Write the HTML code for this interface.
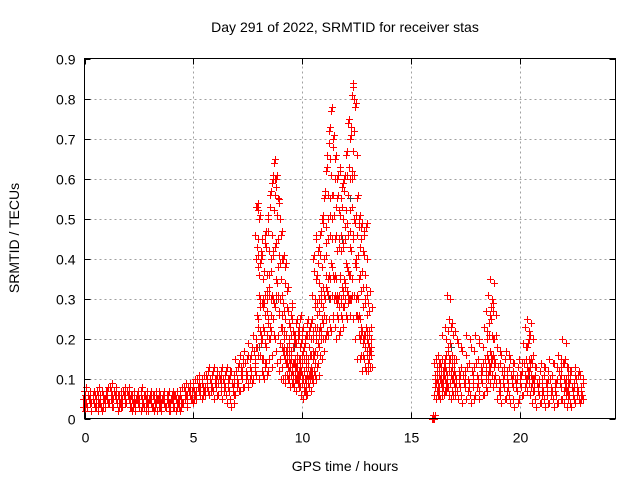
<!DOCTYPE html>
<html><head><meta charset="utf-8"><style>
body{margin:0;background:#fff}
svg{display:block;font-family:"Liberation Sans",sans-serif}
</style></head><body>
<svg id="chart" width="640" height="480" viewBox="0 0 640 480">
<rect width="640" height="480" fill="#fff"/>
<g id="grid"></g>
<g id="marks" shape-rendering="crispEdges"></g>
<rect x="84.5" y="58.5" width="531" height="360" fill="none" stroke="#000" stroke-width="1"/>
<g id="axes"></g>
<text x="345" y="32" font-size="14" text-anchor="middle">Day 291 of 2022, SRMTID for receiver stas</text>
<text x="345" y="471" font-size="14" text-anchor="middle">GPS time / hours</text>
<text transform="translate(19,238) rotate(-90)" font-size="14" text-anchor="middle">SRMTID / TECUs</text>
</svg>
<script>
const xTicks=[0,5,10,15,20];
const yTicks=[0,0.1,0.2,0.3,0.4,0.5,0.6,0.7,0.8,0.9];
const yTickLabels=["0","0.1","0.2","0.3","0.4","0.5","0.6","0.7","0.8","0.9"];
const redT=[0,0.2,0.4,0.6,0.8,1.0,1.2,1.4,1.6,1.8,2.0,2.2,2.4,2.6,2.8,3.0,3.2,3.4,3.6,3.8,4.0,4.2,4.4,4.6,4.8,5.0,5.2,5.4,5.6,5.8,6.0,6.2,6.4,6.6,6.8,7.0,7.2,7.4,7.6,7.8,7.9,8.0,8.1,8.2,8.3,8.4,8.5,8.6,8.7,8.8,8.9,9.0,9.1,9.2,9.3,9.4,9.5,9.6,9.7,9.8,9.9,10.0,10.1,10.2,10.3,10.4,10.5,10.6,10.7,10.8,10.9,11.0,11.1,11.2,11.3,11.4,11.5,11.6,11.7,11.8,11.9,12.0,12.1,12.2,12.3,12.4,12.5,12.6,12.7,12.8,12.9,13.0,13.1,16.0,16.1,16.2,16.3,16.4,16.5,16.6,16.7,16.8,16.9,17.0,17.2,17.4,17.6,17.8,18.0,18.2,18.4,18.5,18.6,18.7,18.8,19.0,19.2,19.4,19.6,19.8,20.0,20.2,20.3,20.4,20.5,20.6,20.8,21.0,21.2,21.4,21.6,21.8,22.0,22.1,22.2,22.4,22.6,22.8];
const redV=[
[0.03,0.05,0.07,0.04,0.02],[0.03,0.04,0.06,0.02,0.05],[0.02,0.04,0.05,0.03,0.06],[0.03,0.05,0.07,0.04,0.02],[0.04,0.06,0.03,0.05,0.02],[0.03,0.05,0.07,0.04,0.06],[0.04,0.06,0.08,0.03,0.05],[0.03,0.05,0.07,0.04,0.06],[0.02,0.04,0.06,0.05,0.03],[0.03,0.05,0.07,0.04,0.06],
[0.04,0.05,0.07,0.03,0.06],[0.03,0.04,0.06,0.05,0.02],[0.02,0.04,0.05,0.03,0.06],[0.03,0.05,0.07,0.04,0.02],[0.03,0.04,0.06,0.05,0.02],[0.02,0.04,0.05,0.03,0.06],[0.03,0.04,0.06,0.05,0.02],[0.02,0.03,0.05,0.04,0.06],[0.02,0.04,0.05,0.03,0.06],[0.03,0.04,0.06,0.02,0.05],
[0.02,0.04,0.05,0.03,0.06],[0.03,0.04,0.06,0.05,0.02],[0.03,0.05,0.07,0.04,0.02],[0.04,0.06,0.08,0.03,0.05],[0.04,0.06,0.08,0.05,0.07],[0.05,0.07,0.09,0.06,0.04],[0.05,0.07,0.1,0.06,0.08],[0.06,0.08,0.1,0.07,0.05],[0.06,0.09,0.11,0.07,0.08],[0.06,0.08,0.1,0.12,0.07],
[0.05,0.08,0.1,0.12,0.09],[0.06,0.09,0.11,0.08,0.1],[0.05,0.08,0.1,0.12,0.07],[0.04,0.07,0.1,0.12,0.09],[0.03,0.06,0.09,0.11,0.08],[0.06,0.09,0.12,0.14,0.08],[0.07,0.1,0.13,0.15,0.11],[0.08,0.11,0.14,0.16,0.1],[0.08,0.12,0.15,0.18,0.1],[0.1,0.13,0.17,0.2,0.12],
[0.15,0.25,0.4,0.45,0.53,0.52],[0.18,0.3,0.38,0.42,0.5,0.22],[0.1,0.2,0.28,0.35,0.4,0.15],[0.12,0.22,0.3,0.44,0.28,0.14],[0.1,0.18,0.26,0.36,0.46,0.3],[0.14,0.24,0.32,0.42,0.5,0.2],[0.12,0.22,0.36,0.46,0.56,0.3],[0.2,0.3,0.4,0.52,0.59,0.25],[0.16,0.28,0.42,0.58,0.64,0.6],[0.2,0.34,0.44,0.55,0.6,0.3],
[0.14,0.26,0.38,0.5,0.54,0.3],[0.12,0.22,0.3,0.4,0.46,0.18],[0.1,0.16,0.26,0.34,0.4,0.22],[0.1,0.14,0.2,0.28,0.38,0.17],[0.09,0.13,0.18,0.24,0.32,0.15],[0.1,0.14,0.2,0.26,0.12,0.16],[0.08,0.12,0.17,0.22,0.28,0.14],[0.09,0.13,0.18,0.24,0.2,0.1],[0.08,0.12,0.15,0.2,0.24,0.1],[0.07,0.1,0.14,0.18,0.22,0.12],
[0.08,0.12,0.15,0.2,0.25,0.1],[0.06,0.1,0.14,0.18,0.22,0.08],[0.05,0.09,0.12,0.16,0.2,0.07],[0.07,0.1,0.14,0.18,0.24,0.09],[0.06,0.1,0.15,0.2,0.22,0.12],[0.08,0.12,0.16,0.2,0.24,0.1],[0.1,0.16,0.22,0.3,0.4,0.14],[0.12,0.2,0.28,0.36,0.45,0.16],[0.1,0.18,0.26,0.34,0.42,0.22],[0.14,0.22,0.3,0.38,0.46,0.2],
[0.16,0.24,0.32,0.4,0.5,0.28],[0.2,0.3,0.4,0.48,0.55,0.25],[0.2,0.32,0.44,0.56,0.62,0.35],[0.22,0.35,0.5,0.65,0.72,0.3],[0.25,0.38,0.55,0.68,0.77,0.45],[0.22,0.35,0.5,0.6,0.7,0.3],[0.25,0.35,0.45,0.55,0.65,0.3],[0.2,0.3,0.42,0.52,0.6,0.28],[0.25,0.35,0.45,0.55,0.62,0.3],[0.22,0.32,0.42,0.5,0.58,0.28],
[0.25,0.34,0.44,0.52,0.6,0.3],[0.28,0.38,0.48,0.56,0.66,0.32],[0.25,0.36,0.46,0.6,0.74,0.3],[0.3,0.42,0.52,0.62,0.7,0.35],[0.3,0.45,0.6,0.72,0.83,0.8],[0.25,0.38,0.5,0.66,0.78,0.3],[0.2,0.3,0.4,0.48,0.55,0.25],[0.15,0.25,0.35,0.45,0.5,0.2],[0.15,0.22,0.32,0.42,0.48,0.2],[0.12,0.2,0.28,0.36,0.46,0.18],
[0.15,0.22,0.3,0.4,0.48,0.2],[0.12,0.18,0.26,0.32,0.14,0.16],[0.12,0.16,0.22,0.28,0.17,0.2],
[0.0,0.0,0.0],
[0.06,0.09,0.11,0.13,0.08],[0.05,0.08,0.1,0.14,0.07],[0.06,0.09,0.12,0.15,0.1],[0.05,0.08,0.11,0.13,0.09],[0.06,0.1,0.14,0.2,0.12],[0.07,0.11,0.16,0.22,0.09],[0.08,0.12,0.18,0.3,0.14],[0.06,0.1,0.15,0.24,0.12],[0.05,0.09,0.14,0.22,0.11],[0.06,0.1,0.14,0.2,0.08],
[0.05,0.08,0.12,0.18,0.1],[0.04,0.08,0.11,0.16,0.09],[0.05,0.09,0.13,0.2,0.07],[0.04,0.08,0.12,0.17,0.1],[0.06,0.1,0.14,0.2,0.08],[0.05,0.09,0.13,0.18,0.11],[0.06,0.1,0.15,0.22,0.12],[0.08,0.14,0.2,0.26,0.11],[0.1,0.16,0.24,0.3,0.13],[0.12,0.2,0.28,0.34,0.15],
[0.08,0.14,0.2,0.26,0.1],[0.05,0.09,0.13,0.17,0.07],[0.04,0.08,0.12,0.15,0.1],[0.05,0.09,0.12,0.16,0.07],[0.04,0.08,0.11,0.14,0.1],[0.03,0.07,0.1,0.13,0.09],[0.05,0.08,0.11,0.14,0.1],[0.06,0.1,0.14,0.18,0.08],[0.08,0.12,0.18,0.22,0.1],[0.1,0.14,0.2,0.24,0.12],
[0.06,0.1,0.15,0.2,0.08],[0.04,0.07,0.1,0.13,0.09],[0.03,0.06,0.09,0.12,0.08],[0.04,0.07,0.1,0.13,0.06],[0.03,0.06,0.09,0.12,0.08],[0.04,0.07,0.1,0.14,0.06],[0.03,0.06,0.09,0.13,0.08],[0.04,0.08,0.12,0.15,0.1],[0.05,0.09,0.14,0.19,0.07],[0.04,0.07,0.1,0.13,0.06],
[0.03,0.06,0.09,0.12,0.08],[0.03,0.05,0.08,0.11,0.07],[0.04,0.07,0.1,0.12,0.06],[0.04,0.06,0.08,0.1,0.05]];
const grayT=[8.0,8.8,9.6,10.4,11.2,11.8,12.2,12.6,16.8,18.6,20.4];
const grayV=[0.18,0.3,0.18,0.16,0.3,0.45,0.55,0.35,0.18,0.12,0.1];

const X0=84.5,X1=615.5,Y0=418.5,Y1=58.5,XMAX=24.36,YMAX=0.9;
const xs=v=>X0+(v/XMAX)*(X1-X0);
const ys=v=>Y0-(v/YMAX)*(Y0-Y1);
const NS="http://www.w3.org/2000/svg";
const grid=document.getElementById('grid'),axes=document.getElementById('axes'),marks=document.getElementById('marks');
function mk(tag,attrs,parent){const e=document.createElementNS(NS,tag);for(const k in attrs)e.setAttribute(k,attrs[k]);parent.appendChild(e);return e;}
yTicks.forEach((t,i)=>{
  const y=Math.round(ys(t))+0.5;
  if(i>0&&i<yTicks.length-1){const g=mk('line',{x1:X0,x2:X1,y1:y,y2:y,stroke:'#a0a0a0','stroke-dasharray':'2,3'},grid);
  
  }
  mk('line',{x1:X0,x2:X0+6,y1:y,y2:y,stroke:'#000'},axes);
  mk('line',{x1:X1,x2:X1-6,y1:y,y2:y,stroke:'#000'},axes);
  const l=mk('text',{x:X0-9,y:y+5,'font-size':14,'text-anchor':'end'},axes);l.textContent=yTickLabels[i];
  
  
});
xTicks.forEach(t=>{
  const x=Math.round(xs(t))+0.5;
  if(t>0){const g=mk('line',{x1:x,x2:x,y1:Y0,y2:Y1,stroke:'#a0a0a0','stroke-dasharray':'2,3'},grid);
  
  }
  mk('line',{x1:x,x2:x,y1:Y0,y2:Y0-6,stroke:'#000'},axes);
  mk('line',{x1:x,x2:x,y1:Y1,y2:Y1+6,stroke:'#000'},axes);
  const l=mk('text',{x:x,y:Y0+24,'font-size':14,'text-anchor':'middle'},axes);l.textContent=String(t);
  
  
});
function plus(t,v,col){
  const x=Math.round(xs(t)),y=Math.round(ys(v));
  const g=mk('g',{fill:col},marks);
  
  
  mk('rect',{x:x-3,y:y,width:7,height:1},g);
  mk('rect',{x:x,y:y-3,width:1,height:7},g);
}
grayT.forEach((t,i)=>plus(t,grayV[i],'#404040'));
const offs=[-0.08,0.04,-0.03,0.08,0,0.06];
redT.forEach((t,i)=>{
  const vals=redV[i]||[];
  vals.forEach((v,j)=>{
    plus(t+offs[j%offs.length],v,'#ff0000');
    plus(t+offs[(j+3)%offs.length],v+0.008,'#ff0000');
  });
});
</script>
</body></html>
